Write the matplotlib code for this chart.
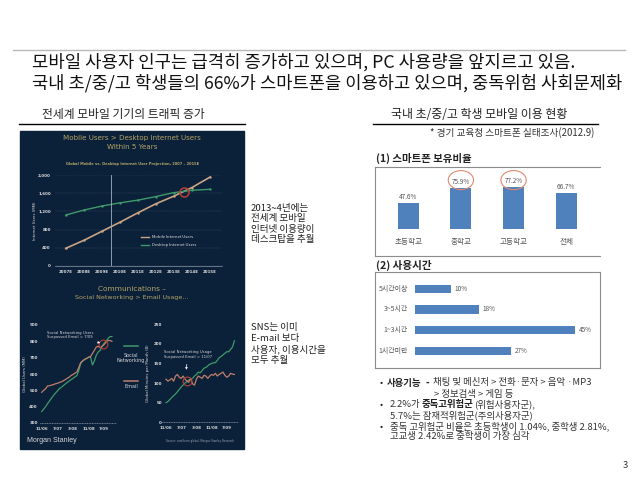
import matplotlib
matplotlib.use('Agg')
import matplotlib.pyplot as plt
from matplotlib.patches import Ellipse, Rectangle

plt.rcParams['font.family'] = ['Noto Sans CJK KR', 'DejaVu Sans']

W, H = 638, 479

# projection chart
years = ['2007E', '2008E', '2009E', '2010E', '2011E', '2012E', '2013E', '2014E', '2015E']
mobile = [384, 560, 760, 960, 1170, 1370, 1540, 1730, 1960]
desktop = [1120, 1230, 1320, 1390, 1450, 1530, 1617, 1668, 1690]
proj_ticks = [0, 400, 800, 1200, 1600, 2000]
proj_labels = ['0', '400', '800', '1,200', '1,600', '2,000']

# social networking charts, monthly
month_ticks = [0, 8, 16, 24, 32]
month_labels = ['11/06', '7/07', '3/08', '11/08', '7/09']
users_social = [370, 385, 400, 418, 435, 452, 468, 482, 495, 510, 518, 528, 538, 548, 556, 565, 573, 582, 590,
                620, 665, 680, 688, 695, 703, 706, 655, 680, 715, 735, 745, 770, 788, 800, 818, 829, 829]
users_email = [488, 500, 510, 527, 528, 532, 535, 540, 543, 548, 552, 558, 565, 573, 580, 590, 597, 605, 612,
               640, 670, 680, 690, 695, 702, 706, 725, 745, 765, 770, 760, 770, 780, 795, 805, 805, 800]
time_social = [50, 53, 58, 63, 68, 72, 78, 84, 90, 95, 100, 104, 108, 110, 112, 118, 122, 128, 126,
               132, 138, 140, 144, 148, 150, 152, 152, 158, 165, 168, 172, 176, 180, 180, 186, 192, 208]
time_email = [110, 105, 108, 112, 105, 118, 122, 115, 112, 118, 110, 105, 102, 112, 98, 95, 110, 118, 115,
              112, 120, 118, 112, 118, 122, 120, 125, 118, 122, 125, 128, 120, 115, 118, 125, 123, 122]

# korean student survey
own_cats = ['초등학교', '중학교', '고등학교', '전체']
own_vals = [47.6, 75.9, 77.2, 66.7]
use_cats = ['5시간이상', '3~5시간', '1~3시간', '1시간미만']
use_vals = [10, 18, 45, 27]

NAVY = '#0b2039'
GOLD = '#b5a566'
GREEN = '#3f9a6b'
TAN = '#c9a585'
EMAIL = '#bf7f6a'
RED = '#b5403a'
BLUE = '#4f81bd'
GRID = '#8b98a8'
LIGHT = '#d8d8d8'
DARK = '#222222'
BODY = '#333333'


def box(left, top, right, bottom):
    return fig.add_axes([left / W, 1 - bottom / H, (right - left) / W, (bottom - top) / H])


def dark_style(a, label, label_x, ypad=3):
    a.patch.set_alpha(0)
    a.tick_params(colors=LIGHT, labelsize=2.9, length=0, pad=3)
    a.tick_params(axis='y', pad=ypad)
    for s in ['top', 'right', 'left']:
        a.spines[s].set_visible(False)
    a.spines['bottom'].set_color('#aeb8c4')
    a.spines['bottom'].set_linewidth(0.4)
    a.set_ylabel(label, color=LIGHT, fontsize=2.8, family='DejaVu Sans')
    a.yaxis.set_label_coords(label_x, 0.5)
    for t in a.get_xticklabels() + a.get_yticklabels():
        t.set_family('DejaVu Sans')
        t.set_fontweight('bold')


fig = plt.figure(figsize=(W / 100, H / 100), dpi=100, facecolor='white')

# page layer in pixel coordinates
page = fig.add_axes([0, 0, 1, 1])
page.set_xlim(0, W)
page.set_ylim(H, 0)
page.axis('off')

page.plot([13, 625], [50, 50], color='#b8b8b8', lw=1)
page.text(32, 62, '모바일 사용자 인구는 급격히 증가하고 있으며, PC 사용량을 앞지르고 있음.', fontsize=12.8, va='center', color='#111111', fontweight=500)
page.text(32, 83, '국내 초/중/고 학생들의 66%가 스마트폰을 이용하고 있으며, 중독위험 사회문제화', fontsize=12.7, va='center', color='#111111', fontweight=500)

page.text(42, 114, '전세계 모바일 기기의 트래픽 증가', fontsize=8.5, va='center', color=DARK)
page.text(391, 114, '국내 초/중/고 학생 모바일 이용 현황', fontsize=8.6, va='center', color=DARK)
page.plot([19, 245], [124, 124], color='black', lw=1)
page.plot([373, 598], [124, 124], color='black', lw=1)
page.text(430, 133, '* 경기 교육청 스마트폰 실태조사(2012.9)', fontsize=6.95, va='center', color=BODY)
page.text(376, 158, '(1) 스마트폰 보유비율', fontsize=7.5, va='center', fontweight='bold', color=DARK)
page.text(376, 265, '(2) 사용시간', fontsize=7.6, va='center', fontweight='bold', color=DARK)

page.add_patch(Rectangle((20, 131), 224, 318, color=NAVY, zorder=1))
page.text(132, 138, 'Mobile Users > Desktop Internet Users', color=GOLD, fontsize=5.1, ha='center', va='center', family='DejaVu Sans', zorder=3)
page.text(132, 147, 'Within 5 Years', color=GOLD, fontsize=5.1, ha='center', va='center', family='DejaVu Sans', zorder=3)
page.text(133, 164, 'Global Mobile vs. Desktop Internet User Projection, 2007 – 2015E', color=GOLD, fontsize=2.65, ha='center', va='center', family='DejaVu Sans', fontweight='bold', zorder=3)
page.text(132, 289, 'Communications –', color=GOLD, fontsize=5.3, ha='center', va='center', family='DejaVu Sans', zorder=3)
page.text(132, 297, 'Social Networking > Email Usage…', color=GOLD, fontsize=4.6, ha='center', va='center', family='DejaVu Sans', zorder=3)
page.text(27, 440, 'Morgan Stanley', color=LIGHT, fontsize=5, va='center', family='Liberation Sans', zorder=3)
page.text(200, 441, 'Source: comScore global, Morgan Stanley Research', color='#9aa4b0', fontsize=1.9, ha='center', va='center', family='DejaVu Sans', zorder=3)
page.text(131, 358, 'Social\nNetworking', color=LIGHT, fontsize=3.5, ha='center', va='center', family='DejaVu Sans', zorder=3)
page.text(131, 387, 'Email', color=LIGHT, fontsize=3.5, ha='center', va='center', family='DejaVu Sans', zorder=3)
page.plot([124, 138], [346, 346], color=GREEN, lw=1.1, zorder=3)
page.plot([124, 138], [381, 381], color=EMAIL, lw=1.1, zorder=3)

page.text(251, 224, '2013~4년에는\n전세계 모바일\n인터넷 이용량이\n데스크탑을 추월', fontsize=6.9, va='center', linespacing=1.2, color=DARK)
page.text(251, 344, 'SNS는 이미\nE-mail 보다\n사용자, 이용시간을\n모두 추월', fontsize=6.9, va='center', linespacing=1.2, color=DARK)

page.text(380, 383, '•', fontsize=6.8, va='center', color=DARK)
page.text(387, 383, '사용기능', fontsize=6.8, va='center', fontweight='bold', color=DARK)
page.text(426, 383, '-', fontsize=6.8, va='center', fontweight='bold', color=DARK)
page.text(433, 383, '채팅 및 메신저 > 전화·문자 > 음악 ·MP3', fontsize=6.8, va='center', color=BODY)
page.text(434, 394, '> 정보검색 > 게임 등', fontsize=6.8, va='center', color=BODY)
page.text(380, 404, '•', fontsize=6.8, va='center', color=DARK)
page.text(390, 404, '2.2%가', fontsize=6.8, va='center', color=BODY)
page.text(422, 404, '중독고위험군', fontsize=6.8, va='center', fontweight='bold', color=DARK)
page.text(474, 404, '(위험사용자군),', fontsize=6.8, va='center', color=BODY)
page.text(390, 415, '5.7%는 잠재적위험군(주의사용자군)', fontsize=6.8, va='center', color=BODY)
page.text(380, 426, '•', fontsize=6.8, va='center', color=DARK)
page.text(390, 426, '중독 고위험군 비율은 초등학생이 1.04%, 중학생 2.81%,', fontsize=6.8, va='center', color=BODY)
page.text(390, 437, '고교생 2.42%로 중학생이 가장 심각', fontsize=6.8, va='center', color=BODY)
page.text(625, 466, '3', fontsize=6.8, ha='center', va='center', color=BODY)

# top dark chart
ax = box(55, 175.3, 222, 265.7)
xs = list(range(len(years)))
ax.plot(xs, mobile, color=TAN, lw=1.2, marker='.', ms=1.5)
ax.plot(xs, desktop, color=GREEN, lw=1.0, marker='.', ms=1.5)
ax.axvline(2.5, color='#9fb2c6', lw=0.6)
ax.plot([6.57], [1637], 'o', ms=6.5, mfc='none', mec=RED, mew=1.1)
ax.set_xlim(-0.593, 8.664)
ax.set_ylim(0, 2000)
ax.set_yticks(proj_ticks, proj_labels)
ax.set_xticks(xs, years)
ax.grid(axis='y', color=GRID, lw=0.25, ls=(0, (1, 2)))
dark_style(ax, 'Internet Users (MM)', (37 - 55) / 167)
ax.plot([], [], color=TAN, lw=1.0, label='Mobile Internet Users')
ax.plot([], [], color=GREEN, lw=1.0, label='Desktop Internet Users')
ax.legend(loc='center', bbox_to_anchor=(0.68, 0.27), frameon=False, fontsize=3.0, labelcolor='#e0e0e0', handlelength=2, labelspacing=0.9)

# lower left dark chart
ax = box(40, 325, 116, 423)
ax.plot(range(len(users_social)), users_social, color=GREEN, lw=0.9)
ax.plot(range(len(users_email)), users_email, color=EMAIL, lw=0.9)
ax.plot([31.6], [781], 'o', ms=6.3, mfc='none', mec=RED, mew=0.8)
ax.annotate('Social Networking Users\nSurpassed Email = 7/09', xy=(30, 790), xytext=(14.5, 839), color=LIGHT, fontsize=2.7,
            ha='center', va='center', family='DejaVu Sans', arrowprops=dict(arrowstyle='-|>', color='white', lw=0.5, mutation_scale=3))
ax.set_xlim(-0.87, 38.1)
ax.set_ylim(300, 900)
ax.set_yticks([300, 400, 500, 600, 700, 800, 900])
ax.set_xticks(month_ticks, month_labels)
dark_style(ax, 'Global Users (MM)', (27 - 40) / 76, ypad=1.5)
ax.spines['bottom'].set_linestyle((0, (1, 2)))

# lower right dark chart
ax = box(162, 324.3, 238, 422.3)
ax.plot(range(len(time_social)), time_social, color=GREEN, lw=0.9)
ax.plot(range(len(time_email)), time_email, color=EMAIL, lw=0.9)
ax.plot([11], [105], 'o', ms=6.3, mfc='none', mec=RED, mew=0.8)
ax.annotate('Social Networking Usage\nSurpassed Email = 11/07', xy=(10.5, 127), xytext=(11.5, 173), color=LIGHT, fontsize=2.7,
            ha='center', va='center', family='DejaVu Sans', arrowprops=dict(arrowstyle='-|>', color='white', lw=0.5, mutation_scale=3))
ax.set_xlim(-2.1, 37.9)
ax.set_ylim(0, 250)
ax.set_yticks([0, 50, 100, 150, 200, 250])
ax.set_xticks(month_ticks, month_labels)
dark_style(ax, 'Global Minutes per Month (B)', (150 - 162) / 76, ypad=0)
ax.spines['bottom'].set_linestyle((0, (1, 2)))

# ownership bars
ax = box(375, 167, 600, 256)
ax.bar(range(len(own_cats)), own_vals, width=0.4, color=BLUE)
ax.set_xlim(-0.63, 3.64)
ax.set_ylim(-49.6, 114)
ax.set_xticks([])
ax.set_yticks([])
for s in ['top', 'bottom', 'left']:
    ax.spines[s].set_color('#8c8c8c')
ax.spines['right'].set_visible(False)
for i, v in enumerate(own_vals):
    ax.text(i, v + 4, '%.1f%%' % v, ha='center', va='bottom', fontsize=4.6, color='#555555')
    ax.text(i, -24, own_cats[i], ha='center', va='center', fontsize=5.5, color='#555555')
for i in (1, 2):
    ax.add_patch(Ellipse((i, own_vals[1] + 14), 0.48, 35, fill=False, ec='#e08a70', lw=0.8))

# usage bars
ax = box(375, 272, 600, 368)
ax.barh(range(len(use_cats)), use_vals, height=0.39, color=BLUE)
ax.set_xlim(-11.25, 52)
ax.set_ylim(3.81, -0.8)
ax.set_xticks([])
ax.set_yticks([])
for s in ax.spines.values():
    s.set_color('#8c8c8c')
for i, v in enumerate(use_vals):
    ax.text(v + 1, i, '%d%%' % v, va='center', ha='left', fontsize=4.6, color='#555555')
    ax.text(-2, i, use_cats[i], va='center', ha='right', fontsize=5, color='#555555')

fig.savefig('out.png', dpi=100)
